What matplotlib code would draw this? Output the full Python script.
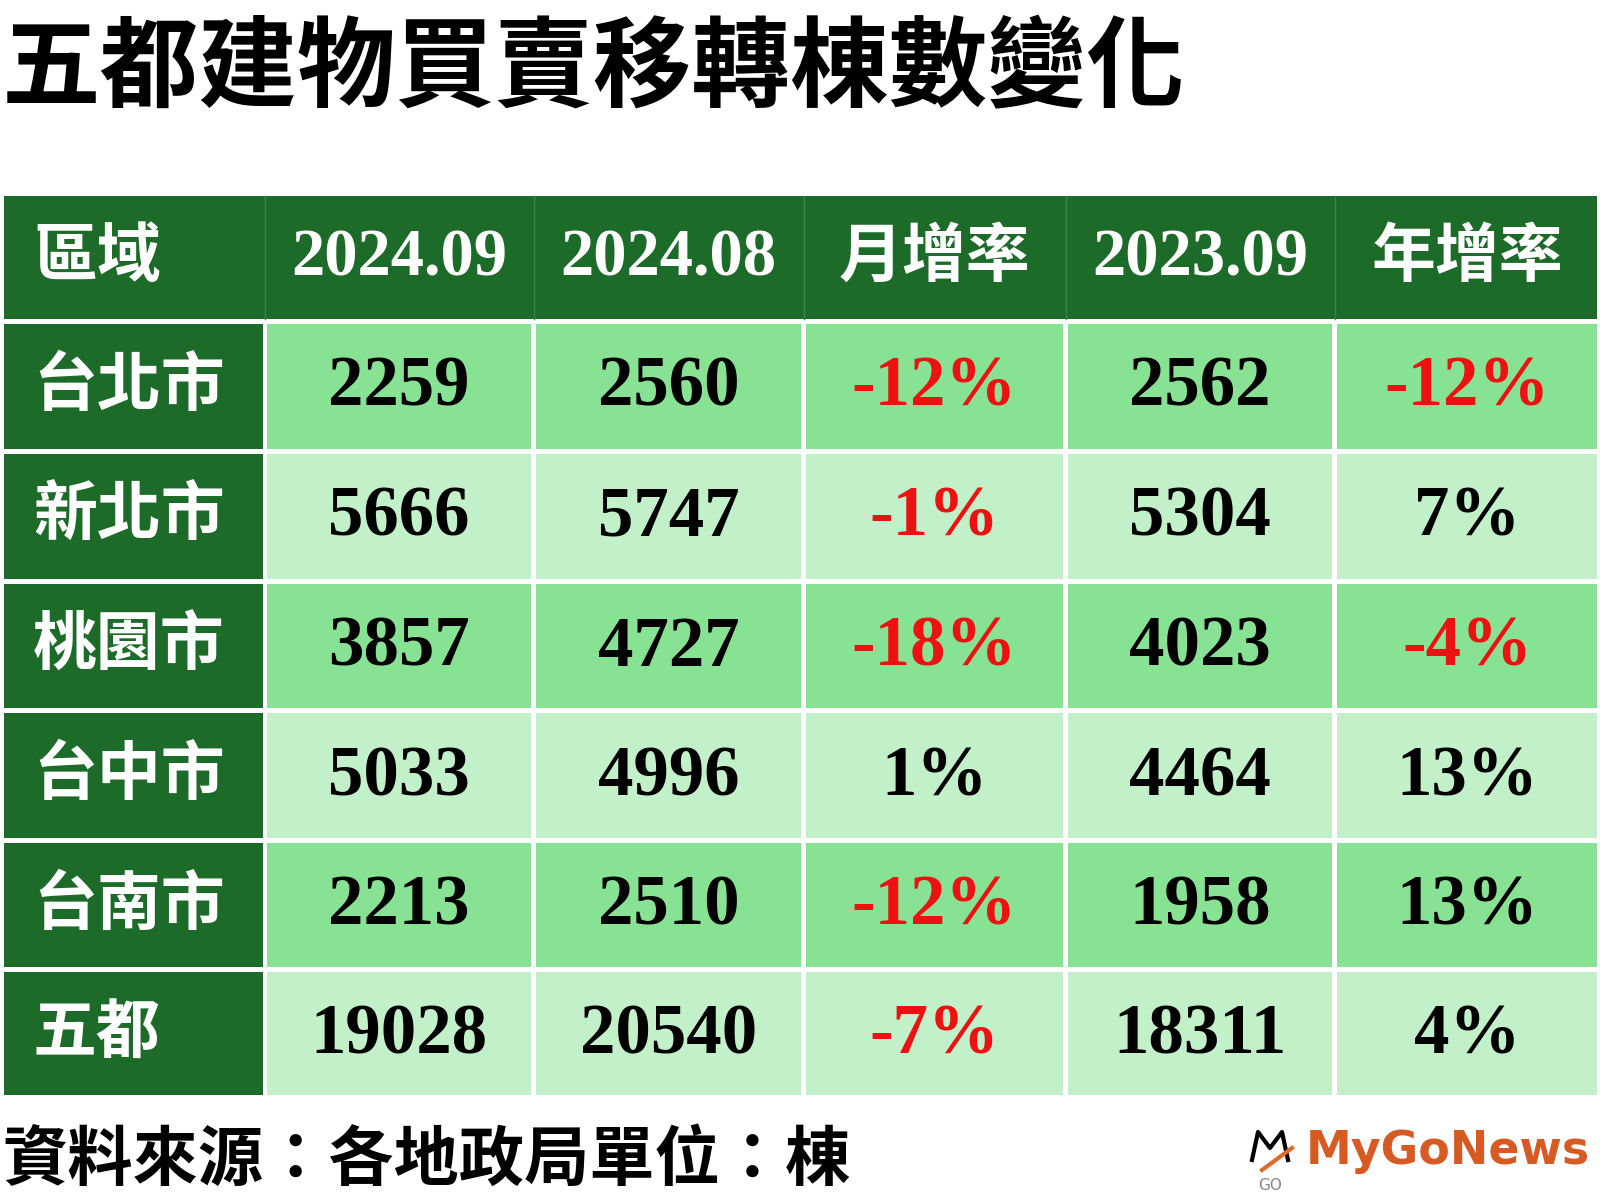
import matplotlib
matplotlib.use("Agg")
import matplotlib.pyplot as plt
from matplotlib.patches import Rectangle

# ---- data ----
title = "五都建物買賣移轉棟數變化"
headers = ["區域", "2024.09", "2024.08", "月增率", "2023.09", "年增率"]
regions = ["台北市", "新北市", "桃園市", "台中市", "台南市", "五都"]
sep_2024 = [2259, 5666, 3857, 5033, 2213, 19028]
aug_2024 = [2560, 5747, 4727, 4996, 2510, 20540]
mom_pct = [-12, -1, -18, 1, -12, -7]
sep_2023 = [2562, 5304, 4023, 4464, 1958, 18311]
yoy_pct = [-12, 7, -4, 13, 13, 4]
footer = "資料來源：各地政局單位：棟"
brand = "MyGoNews"

# ---- style ----
DARK = "#1c6b28"
ROW_A = "#88e294"
ROW_B = "#c2f0c8"
RED = "#ee1111"
CJK = ["Noto Sans CJK TC", "DejaVu Sans"]
SERIF = ["Liberation Serif", "DejaVu Serif"]

fig = plt.figure(figsize=(16, 12), dpi=100)
ax = fig.add_axes([0, 0, 1, 1])
ax.set_xlim(0, 1600)
ax.set_ylim(1200, 0)
ax.axis("off")

col_edges = [(4, 263), (267, 531), (536, 801), (806, 1063), (1068, 1332), (1337, 1597)]
header_y = (196, 319)
row_edges = [(324, 449), (454, 579), (584, 708), (713, 838), (843, 967), (972, 1095)]

# title
ax.text(2, 70, title, family=CJK, fontsize=71, fontweight="heavy",
        ha="left", va="center", color="black")

# header block
ax.add_patch(Rectangle((col_edges[0][0], header_y[0]), col_edges[-1][1] - col_edges[0][0],
                       header_y[1] - header_y[0], facecolor=DARK, edgecolor="none"))
for (l, r) in col_edges[1:]:
    ax.plot([l - 2, l - 2], header_y, color="#3a8445", lw=1)
hc = (header_y[0] + header_y[1]) / 2
for i, h in enumerate(headers):
    l, r = col_edges[i]
    if i == 0:
        ax.text(33, hc, h, family=CJK, fontsize=46, fontweight="bold",
                color="white", ha="left", va="center")
    elif "." in h:
        ax.text((l + r) / 2, hc + 2, h, family=SERIF, fontsize=48, fontweight="bold",
                color="white", ha="center", va="center")
    else:
        ax.text((l + r) / 2, hc, h, family=CJK, fontsize=46, fontweight="bold",
                color="white", ha="center", va="center")

columns = [sep_2024, aug_2024, mom_pct, sep_2023, yoy_pct]
pct_cols = {2, 4}
for ri, name in enumerate(regions):
    t, b = row_edges[ri]
    yc = (t + b) / 2
    fill = ROW_A if ri % 2 == 0 else ROW_B
    l, r = col_edges[0]
    ax.add_patch(Rectangle((l, t), r - l, b - t, facecolor=DARK, edgecolor="none"))
    ax.text(33, yc, name, family=CJK, fontsize=46, fontweight="bold",
            color="white", ha="left", va="center")
    for ci, col in enumerate(columns):
        l, r = col_edges[ci + 1]
        ax.add_patch(Rectangle((l, t), r - l, b - t, facecolor=fill, edgecolor="none"))
        v = col[ri]
        if ci in pct_cols:
            s = f"{v}%"
            c = RED if v < 0 else "black"
        else:
            s = str(v)
            c = "black"
        ax.text((l + r) / 2, yc + 2, s, family=SERIF, fontsize=51, fontweight="bold",
                color=c, ha="center", va="center")

# footer
ax.text(2, 1160, footer, family=CJK, fontsize=47, fontweight="heavy",
        ha="left", va="center", color="black")

# brand logo (approximation)
ax.text(1306, 1152, brand, family=["DejaVu Sans"], fontsize=33, fontweight="bold",
        ha="left", va="center", color="#d65a22")
ax.plot([1252, 1258, 1270, 1282, 1288], [1160, 1132, 1148, 1132, 1160], color="black", lw=3)
ax.plot([1262, 1292], [1170, 1148], color="#e06a2a", lw=3)
ax.text(1270, 1186, "GO", family=["DejaVu Sans"], fontsize=11, color="#888888",
        ha="center", va="center")

fig.savefig("out.png", dpi=100, facecolor="white")
